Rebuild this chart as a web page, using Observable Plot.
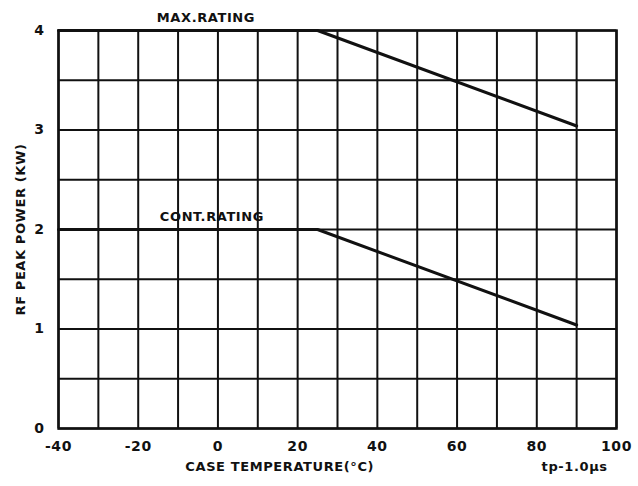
<!DOCTYPE html>
<html>
<head>
<meta charset="utf-8">
<script src="https://cdn.jsdelivr.net/npm/d3@7"></script>
<script src="https://cdn.jsdelivr.net/npm/@observablehq/plot@0.6"></script>
<style>
  html, body { margin: 0; padding: 0; background: #fff; }
  #chart svg { display: block; font-family: "DejaVu Sans", sans-serif; font-weight: bold; }
  #chart svg text { letter-spacing: 0.6px; }
</style>
</head>
<body>
<div id="chart"></div>
<script>
// Data
const maxTemp = [-40, 25, 90];
const maxPower = [4, 4, 3.04];
const contTemp = [-40, 25, 90];
const contPower = [2, 2, 1.04];

const xTicks = [-40, -20, 0, 20, 40, 60, 80, 100];
const yTicks = [0, 1, 2, 3, 4];
const xGrid = d3.range(-40, 101, 10);
const yGrid = d3.range(0, 4.01, 0.5);

const seriesLabels = ["MAX.RATING", "CONT.RATING"];
const labelTemp = [-3, -1.5];
const labelPower = [4, 2];

const maxData = maxTemp.map((t, i) => ({t, p: maxPower[i]}));
const contData = contTemp.map((t, i) => ({t, p: contPower[i]}));
const labelData = seriesLabels.map((s, i) => ({s, t: labelTemp[i], p: labelPower[i]}));

const chart = Plot.plot({
  width: 638,
  height: 486,
  marginLeft: 58,
  marginRight: 22,
  marginTop: 30,
  marginBottom: 58,
  x: {domain: [-40, 100]},
  y: {domain: [0, 4]},
  style: {fontSize: "13px", color: "#111"},
  marks: [
    Plot.ruleX(xGrid, {stroke: "#111", strokeWidth: 2}),
    Plot.ruleY(yGrid, {stroke: "#111", strokeWidth: 2}),
    Plot.frame({stroke: "#111", strokeWidth: 2.5}),
    Plot.line(maxData, {x: "t", y: "p", stroke: "#111", strokeWidth: 3}),
    Plot.line(contData, {x: "t", y: "p", stroke: "#111", strokeWidth: 3}),
    Plot.text(labelData, {x: "t", y: "p", text: "s", dy: -13, fill: "#111", fontSize: 13}),
    Plot.axisX(xTicks, {tickSize: 0, tickPadding: 13, label: null, fontSize: 14, tickFormat: d => String(d)}),
    Plot.axisY(yTicks, {tickSize: 0, tickPadding: 14, label: null, fontSize: 14, tickFormat: d => String(d)}),
    Plot.text(["RF PEAK POWER (KW)"], {frameAnchor: "left", textAnchor: "middle", rotate: -90, dx: -38, fill: "#111", fontSize: 13}),
    Plot.text(["CASE TEMPERATURE(\u00B0C)"], {x: 15.5, frameAnchor: "bottom", dy: 42, fill: "#111", fontSize: 13}),
    Plot.text(["tp-1.0\u03BCs"], {x: 89.5, frameAnchor: "bottom", dy: 42, fill: "#111", fontSize: 13})
  ]
});
document.getElementById("chart").appendChild(chart);
</script>
</body>
</html>
